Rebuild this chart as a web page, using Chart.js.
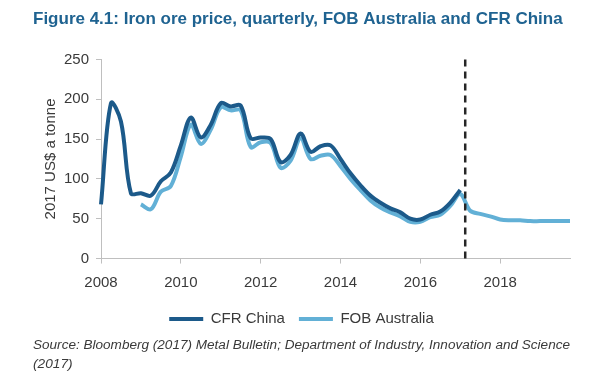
<!DOCTYPE html>
<html>
<head>
<meta charset="utf-8">
<script src="https://cdn.jsdelivr.net/npm/chart.js@4.4.1/dist/chart.umd.min.js"></script>
<style>
    html, body { margin: 0; padding: 0; background: #fff; }
    #wrap { width: 613px; height: 373px; }
</style>
</head>
<body>
<div id="wrap"><canvas id="chart-iron-ore" width="613" height="373"></canvas></div>
<script>
// quarterly, 2008 Q1 .. 2019 Q4
const years = [2008, 2009, 2010, 2011, 2012, 2013, 2014, 2015, 2016, 2017, 2018, 2019];
const quarterLabels = years.flatMap(y => ['Q1', 'Q2', 'Q3', 'Q4'].map(q => y + ' ' + q));

// 2017 US$ a tonne
const cfrChina = [
    68, 195, 172, 82,
    82, 79, 97, 108,
    142, 177, 152, 168,
    195, 191, 192, 151,
    152, 150, 121, 130,
    157, 134, 141, 142,
    125, 107, 92, 79,
    70, 63, 58, 50,
    49, 55, 59, 70,
    86
];
const fobAustralia = [
    null, null, null, null,
    68, 62, 84, 91,
    128, 168, 144, 162,
    190, 186, 186, 140,
    146, 145, 114, 123,
    151, 125, 129, 130,
    116, 100, 86, 73,
    64, 58, 53, 46,
    46, 52, 55, 66,
    81, 60, 56, 53,
    49, 48, 48, 47,
    47, 47, 47, 47
];
const forecastStart = 36.5; // quarter index of the dashed divider (early 2017)

const titleText = 'Figure 4.1: Iron ore price, quarterly, FOB Australia and CFR China';
const sourceText = ['Source: Bloomberg (2017) Metal Bulletin; Department of Industry, Innovation and Science', '(2017)'];

const textColor = '#3a3a3a';
const axisColor = '#bfbfbf';
const fontFamily = 'Liberation Sans, Arial';

const dividerPlugin = {
    id: 'divider',
    afterDatasetsDraw(chart) {
        const {ctx, chartArea, scales} = chart;
        const x = scales.x.getPixelForValue(forecastStart);
        ctx.save();
        ctx.strokeStyle = '#262626';
        ctx.lineWidth = 2.5;
        ctx.setLineDash([7, 5]);
        ctx.beginPath();
        ctx.moveTo(x, chartArea.top);
        ctx.lineTo(x, chartArea.bottom);
        ctx.stroke();
        ctx.restore();
    }
};

const ctxEl = document.getElementById('chart-iron-ore');
new Chart(ctxEl, {
    type: 'line',
    data: {
        labels: quarterLabels,
        datasets: [
            {
                label: 'CFR China',
                data: cfrChina,
                borderColor: '#1c5a8a',
                backgroundColor: '#1c5a8a',
                borderWidth: 4,
                pointRadius: 0,
                tension: 0.35
            },
            {
                label: 'FOB Australia',
                data: fobAustralia,
                borderColor: '#62b0d6',
                backgroundColor: '#62b0d6',
                borderWidth: 4,
                pointRadius: 0,
                tension: 0.35
            }
        ]
    },
    options: {
        responsive: false,
        animation: false,
        layout: {padding: {left: 33, right: 43, top: 9, bottom: 0}},
        plugins: {
            title: {
                display: true,
                text: titleText,
                align: 'start',
                color: '#1f6391',
                font: {family: fontFamily, size: 17, weight: 'bold'},
                padding: {top: 0, bottom: 30}
            },
            subtitle: {
                display: true,
                position: 'bottom',
                text: sourceText,
                align: 'start',
                color: textColor,
                font: {family: fontFamily, size: 13.7, style: 'italic', lineHeight: 1.33},
                padding: {top: 0, bottom: 0}
            },
            legend: {
                position: 'bottom',
                labels: {
                    color: textColor,
                    font: {family: fontFamily, size: 15},
                    usePointStyle: true,
                    pointStyle: 'line',
                    pointStyleWidth: 34,
                    padding: 14
                }
            },
            tooltip: {enabled: false}
        },
        scales: {
            x: {
                afterFit: s => { s.height = 39; },
                grid: {display: true, drawOnChartArea: false, drawTicks: true, tickLength: 5, color: axisColor},
                border: {color: axisColor, width: 1},
                ticks: {
                    autoSkip: false,
                    maxRotation: 0,
                    color: textColor,
                    font: {family: fontFamily, size: 15},
                    padding: 10,
                    callback: (v, i) => (i % 8 === 0 ? quarterLabels[i].slice(0, 4) : null)
                }
            },
            y: {
                min: 0,
                max: 250,
                afterFit: s => { s.width = 68; },
                grid: {display: true, drawOnChartArea: false, drawTicks: true, tickLength: 5, color: axisColor},
                border: {color: axisColor, width: 1},
                ticks: {
                    stepSize: 50,
                    color: textColor,
                    font: {family: fontFamily, size: 15},
                    padding: 7
                },
                title: {
                    display: true,
                    text: '2017 US$ a tonne',
                    color: textColor,
                    font: {family: fontFamily, size: 15},
                    padding: {top: 9, bottom: 0}
                }
            }
        }
    },
    plugins: [dividerPlugin]
});
</script>
</body>
</html>
